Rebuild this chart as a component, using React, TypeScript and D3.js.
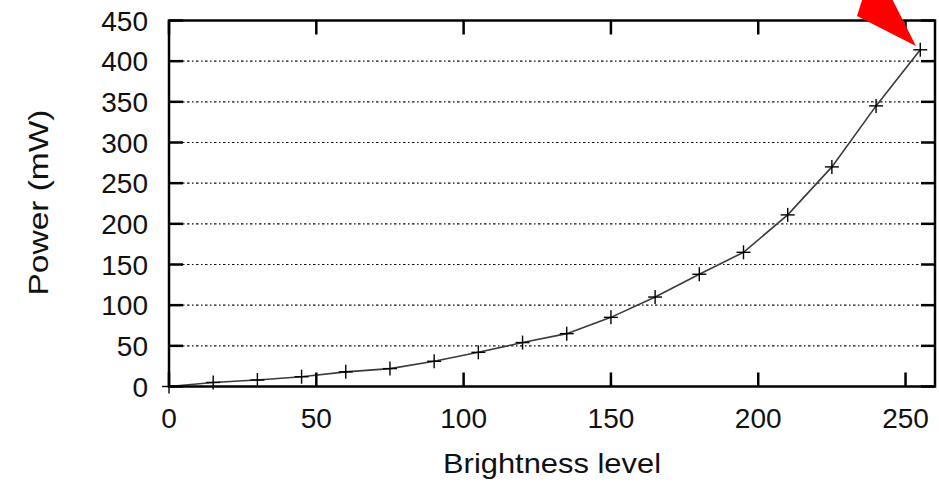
import React from "react";
import * as d3 from "d3";

const brightness = [0, 15, 30, 45, 60, 75, 90, 105, 120, 135, 150, 165, 180, 195, 210, 225, 240, 255];
const powerMw = [0, 5, 8, 12, 18, 22, 31, 42, 54, 65, 85, 110, 138, 165, 211, 270, 345, 414];
const xTicks = [0, 50, 100, 150, 200, 250];
const yTicks = [0, 50, 100, 150, 200, 250, 300, 350, 400, 450];
const xTitle = "Brightness level";
const yTitle = "Power (mW)";

const W = 939;
const H = 486;
const L = 169;
const R = 935;
const T = 20.5;
const B = 386.5;
const FONT = "'Liberation Sans', Arial, Helvetica, sans-serif";

export default function App() {
  const x = d3.scaleLinear().domain([0, 260]).range([L, R]);
  const y = d3.scaleLinear().domain([0, 450]).range([B, T]);
  const line = d3
    .line<number>()
    .x((_, i) => x(brightness[i]))
    .y((d) => y(d));
  const tl = 14;
  const px = x(255);
  const py = y(414);
  const arrow = [
    [px - 4.3, py - 3.8],
    [px - 63.3, py - 33.8],
    [px - 56.3, py - 55.8],
    [px - 30.7, py - 55.8],
  ]
    .map((p) => p.join(","))
    .join(" ");
  return (
    <svg
      width={W}
      height={H}
      style={{ position: "absolute", left: 0, top: 0, background: "#fff" }}
      fontFamily={FONT}
    >
      <rect x={0} y={0} width={W} height={H} fill="#fff" />
      {yTicks
        .filter((v) => v > 0 && v < 450)
        .map((v) => (
          <line
            key={"g" + v}
            x1={L}
            x2={R}
            y1={y(v)}
            y2={y(v)}
            stroke="#111"
            strokeWidth={1.2}
            strokeDasharray="2.5,2.5,1.5,2.5"
          />
        ))}
      <path d={line(powerMw) || ""} fill="none" stroke="#3a3a3a" strokeWidth={1.6} />
      {powerMw.map((v, i) => (
        <g key={"m" + i} stroke="#000" strokeWidth={1.4}>
          <line x1={x(brightness[i]) - 7} x2={x(brightness[i]) + 7} y1={y(v)} y2={y(v)} />
          <line x1={x(brightness[i])} x2={x(brightness[i])} y1={y(v) - 7} y2={y(v) + 7} />
        </g>
      ))}
      <g stroke="#000" strokeWidth={2.5}>
        {yTicks.map((v) => (
          <g key={"yt" + v}>
            <line x1={L} x2={L + tl} y1={y(v)} y2={y(v)} />
            <line x1={R} x2={R - tl} y1={y(v)} y2={y(v)} />
          </g>
        ))}
        {xTicks.map((v) => (
          <g key={"xt" + v}>
            <line x1={x(v)} x2={x(v)} y1={B} y2={B - tl} />
            <line x1={x(v)} x2={x(v)} y1={T} y2={T + tl} />
          </g>
        ))}
        <rect x={L} y={T} width={R - L} height={B - T} fill="none" />
      </g>
      <g fontSize={28} fill="#111">
        {yTicks.map((v) => (
          <text key={"yl" + v} x={148} y={y(v) + 10} textAnchor="end">
            {v}
          </text>
        ))}
        {xTicks.map((v) => (
          <text key={"xl" + v} x={x(v)} y={428} textAnchor="middle">
            {v}
          </text>
        ))}
        <text x={(L + R) / 2} y={473} textAnchor="middle" textLength={218} lengthAdjust="spacingAndGlyphs">
          {xTitle}
        </text>
        <text
          transform={`translate(48, ${(T + B) / 2 - 1}) rotate(-90)`}
          textAnchor="middle"
          textLength={186}
          lengthAdjust="spacingAndGlyphs"
        >
          {yTitle}
        </text>
      </g>
      <polygon points={arrow} fill="#ff0000" />
    </svg>
  );
}
